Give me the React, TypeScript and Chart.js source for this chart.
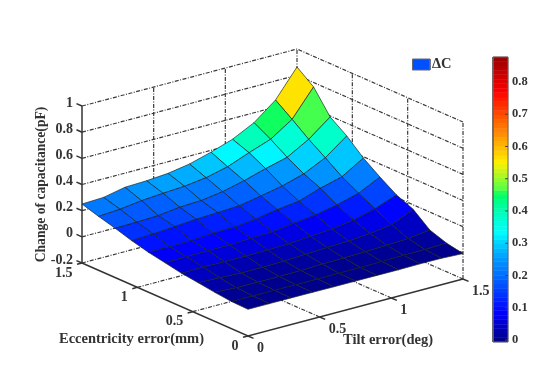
import React, { useEffect, useRef } from "react";
import { Chart, registerables } from "chart.js";

Chart.register(...registerables);

// Rows: eccentricity index 0..10 (0 to 1.5 mm). Columns: tilt index 0..10 (0 to 1.5 deg).
const surfaceZ: number[][] = [
  [0.004, 0.004, 0.004, 0.003, 0.002, 0.002, 0.002, 0.001, 0.003, 0.002, -0.006],
  [0.008, 0.007, 0.006, 0.006, 0.006, 0.006, 0.007, 0.008, 0.012, 0.014, 0.019],
  [0.022, 0.014, 0.012, 0.013, 0.015, 0.02, 0.024, 0.028, 0.034, 0.042, 0.063],
  [0.04, 0.035, 0.028, 0.028, 0.032, 0.04, 0.048, 0.054, 0.068, 0.09, 0.165],
  [0.056, 0.06, 0.058, 0.058, 0.06, 0.065, 0.078, 0.09, 0.115, 0.158, 0.219],
  [0.081, 0.084, 0.086, 0.086, 0.094, 0.1, 0.122, 0.141, 0.174, 0.22, 0.3],
  [0.105, 0.104, 0.108, 0.12, 0.123, 0.14, 0.17, 0.19, 0.246, 0.29, 0.39],
  [0.138, 0.146, 0.158, 0.171, 0.178, 0.187, 0.218, 0.251, 0.3, 0.38, 0.503],
  [0.177, 0.18, 0.186, 0.207, 0.214, 0.239, 0.279, 0.328, 0.371, 0.465, 0.592],
  [0.212, 0.223, 0.245, 0.258, 0.268, 0.29, 0.33, 0.394, 0.453, 0.562, 0.766],
  [0.251, 0.258, 0.292, 0.298, 0.311, 0.339, 0.386, 0.441, 0.524, 0.654, 0.863],
];
const gridStep = 0.15;
const zTicks = [-0.2, 0, 0.2, 0.4, 0.6, 0.8, 1];
const eccTicks = [0, 0.5, 1, 1.5];
const tiltTicks = [0, 0.5, 1, 1.5];
const barTicks = [0, 0.1, 0.2, 0.3, 0.4, 0.5, 0.6, 0.7, 0.8];
const barRange = [-0.006, 0.8775];
const colorStops: [number, number, number, number][] = [
  [0, 0, 0, 135],
  [0.085, 0, 0, 255],
  [0.13, 0, 40, 255],
  [0.2, 0, 110, 255],
  [0.25, 0, 150, 255],
  [0.3, 0, 210, 255],
  [0.335, 0, 255, 255],
  [0.4, 0, 255, 180],
  [0.45, 0, 255, 100],
  [0.47, 90, 255, 70],
  [0.55, 255, 240, 0],
  [0.65, 255, 130, 0],
  [0.77, 255, 0, 0],
  [0.8775, 150, 0, 0],
];
const legendLabel = "\u0394C";
const xTitle = "Tilt error(deg)";
const yTitle = "Eccentricity error(mm)";
const zTitle = "Change of capacitance(pF)";

const TEXT = "#333333";
const GRID = "#3a3a3a";
const SERIF = '"Liberation Serif", serif';

function colorAt(v: number): string {
  const s = colorStops;
  if (v <= s[0][0]) return `rgb(${s[0][1]},${s[0][2]},${s[0][3]})`;
  for (let n = 1; n < s.length; n++) {
    if (v <= s[n][0]) {
      const t = (v - s[n - 1][0]) / (s[n][0] - s[n - 1][0]);
      const c = [1, 2, 3].map((q) => Math.round(s[n - 1][q] + (s[n][q] - s[n - 1][q]) * t));
      return `rgb(${c[0]},${c[1]},${c[2]})`;
    }
  }
  const l = s[s.length - 1];
  return `rgb(${l[1]},${l[2]},${l[3]})`;
}

// Orthographic view of the plot box onto the chart's x / y scales.
function project(tilt: number, ecc: number, z: number) {
  return {
    x: 248 + (tilt / 1.5) * 215 - (ecc / 1.5) * 166,
    y: 336 - (tilt / 1.5) * 57 - (ecc / 1.5) * 73 - (z + 0.2) * 130.8,
  };
}
const barY = (v: number) => 340 - 322.5 * v;

function line(points: { x: number; y: number }[], color: string, width: number, dash: number[] = []) {
  return {
    data: points,
    borderColor: color,
    borderWidth: width,
    borderDash: dash,
    pointRadius: 0,
    fill: false as const,
    tension: 0,
  };
}
function shape(points: { x: number; y: number }[], fillColor: string, edge: string, width: number) {
  return {
    data: [...points, points[0]],
    backgroundColor: fillColor,
    borderColor: edge,
    borderWidth: width,
    pointRadius: 0,
    fill: "shape" as const,
    tension: 0,
  };
}

function buildDatasets() {
  const out: any[] = [];
  const dash = [4, 1.5, 1, 1.5];
  const gridWidth = 1.2;
  const zMin = zTicks[0];
  const zMax = zTicks[zTicks.length - 1];
  const max = 1.5;
  // back walls
  for (const z of zTicks) {
    out.push(line([project(0, max, z), project(max, max, z), project(max, 0, z)], GRID, gridWidth, dash));
  }
  for (const t of tiltTicks.slice(1)) {
    out.push(line([project(t, max, zMin), project(t, max, zMax)], GRID, gridWidth, dash));
  }
  for (const e of eccTicks.slice(1, 3)) {
    out.push(line([project(max, e, zMin), project(max, e, zMax)], GRID, gridWidth, dash));
  }
  out.push(line([project(max, 0, zMin), project(max, 0, zMax)], GRID, gridWidth, dash));
  // floor grid
  for (const t of tiltTicks.slice(1, 3)) {
    out.push(line([project(t, 0, zMin), project(t, max, zMin)], GRID, gridWidth, dash));
  }
  for (const e of eccTicks.slice(1, 3)) {
    out.push(line([project(0, e, zMin), project(max, e, zMin)], GRID, gridWidth, dash));
  }
  // solid axes and ticks
  out.push(line([project(0, max, zMin), project(0, 0, zMin), project(max, 0, zMin)], "#333333", 1.5));
  out.push(line([project(0, max, zMin), project(0, max, zMax)], "#333333", 1.5));
  for (const z of zTicks) out.push(line([project(0, max, z), project(0, max + 0.05, z)], "#333333", 1.5));
  for (const e of eccTicks) out.push(line([project(0, e, zMin), project(-0.035, e, zMin)], "#333333", 1.5));
  for (const t of tiltTicks) out.push(line([project(t, 0, zMin), project(t, -0.05, zMin)], "#333333", 1.5));
  // surface, far cells first
  const n = surfaceZ.length - 1;
  const cells: { i: number; k: number }[] = [];
  for (let k = 0; k < n; k++) for (let i = 0; i < n; i++) cells.push({ i, k });
  cells.sort((a, b) => b.i + b.k - (a.i + a.k));
  for (const { i, k } of cells) {
    const p = (ii: number, kk: number) => project(ii * gridStep, kk * gridStep, surfaceZ[kk][ii]);
    out.push(
      shape([p(i, k), p(i + 1, k), p(i + 1, k + 1), p(i, k + 1)], colorAt(surfaceZ[k][i]), "rgba(25,35,35,0.75)", 0.9)
    );
  }
  // colour bar
  const levels = 64;
  for (let l = 0; l < levels; l++) {
    const a = barRange[0] + ((barRange[1] - barRange[0]) * l) / levels;
    const b = barRange[0] + ((barRange[1] - barRange[0]) * (l + 1)) / levels;
    const c = colorAt((a + b) / 2);
    out.push(
      shape(
        [
          { x: 493, y: barY(a) },
          { x: 508, y: barY(a) },
          { x: 508, y: barY(b) },
          { x: 493, y: barY(b) },
        ],
        c,
        c,
        0.5
      )
    );
  }
  out.push(
    shape(
      [
        { x: 493, y: barY(barRange[0]) },
        { x: 508, y: barY(barRange[0]) },
        { x: 508, y: barY(barRange[1]) },
        { x: 493, y: barY(barRange[1]) },
      ],
      "rgba(0,0,0,0)",
      "#666666",
      1
    )
  );
  for (const v of barTicks) {
    out.push(line([{ x: 505, y: barY(v) }, { x: 508, y: barY(v) }], "#444444", 1));
  }
  // legend swatch
  out.push(
    shape(
      [
        { x: 412.5, y: 59 },
        { x: 430, y: 59 },
        { x: 430, y: 70 },
        { x: 412.5, y: 70 },
      ],
      "#0050ff",
      "#667",
      1
    )
  );
  // first dataset is painted last, so reverse for painter's order
  return out.map((d, idx) => ({ ...d, order: out.length - idx }));
}

const labelsPlugin = {
  id: "axisText",
  afterDraw(chart: any) {
    const ctx = chart.ctx;
    const sx = chart.scales.x;
    const sy = chart.scales.y;
    const put = (s: string, x: number, y: number, align: CanvasTextAlign, size: number, rot = 0) => {
      ctx.save();
      ctx.translate(sx.getPixelForValue(x), sy.getPixelForValue(y));
      if (rot) ctx.rotate(rot);
      ctx.font = `bold ${size}px ${SERIF}`;
      ctx.fillStyle = TEXT;
      ctx.textAlign = align;
      ctx.textBaseline = "middle";
      ctx.fillText(s, 0, 0);
      ctx.restore();
    };
    for (const z of zTicks) {
      put(String(z), 73, project(0, 1.5, z).y - 3, "right", 14);
    }
    for (const e of eccTicks) {
      const p = project(0, e, -0.2);
      put(String(e), p.x - 9.5, p.y + 10, "right", 14);
    }
    for (const t of tiltTicks) {
      const p = project(t, 0, -0.2);
      put(String(t), p.x + 9, p.y + 12, "left", 14);
    }
    for (const v of barTicks) put(String(v), 512, barY(v), "left", 12.5);
    put(yTitle, 131.5, 339, "center", 14.5);
    put(xTitle, 388, 340, "center", 14.5);
    put(zTitle, 41, 184.5, "center", 13.6, -Math.PI / 2);
    put(legendLabel, 432, 64, "left", 14.5);
  },
};

export default function App() {
  const ref = useRef<HTMLCanvasElement>(null);
  useEffect(() => {
    if (!ref.current) return;
    const chart = new Chart(ref.current, {
      type: "line",
      data: { datasets: buildDatasets() },
      options: {
        responsive: false,
        animation: false,
        layout: { padding: 0 },
        events: [],
        plugins: { legend: { display: false }, tooltip: { enabled: false } },
        scales: {
          x: { type: "linear", min: 0, max: 554, display: false },
          y: { type: "linear", min: 0, max: 366, reverse: true, display: false },
        },
      },
      plugins: [labelsPlugin],
    } as any);
    return () => chart.destroy();
  }, []);
  return (
    <div style={{ position: "absolute", left: 0, top: 0, width: 554, height: 366, background: "#fff" }}>
      <canvas ref={ref} width={554} height={366} style={{ display: "block", filter: "blur(0.4px)" }} />
    </div>
  );
}
